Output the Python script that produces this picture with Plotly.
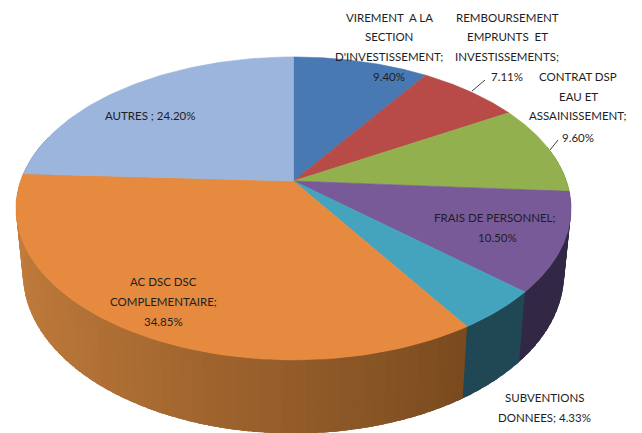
import numpy as np
import plotly.graph_objects as go

# ---- data ----
categories = ["VIREMENT A LA SECTION D'INVESTISSEMENT", "REMBOURSEMENT EMPRUNTS ET INVESTISSEMENTS",
              "CONTRAT DSP EAU ET ASSAINISSEMENT", "FRAIS DE PERSONNEL", "SUBVENTIONS DONNEES",
              "AC DSC DSC COMPLEMENTAIRE", "AUTRES"]
values = [9.40, 7.11, 9.60, 10.50, 4.33, 34.85, 24.20]
top_colors = ["#4879B3", "#B84A47", "#93B04F", "#785A99", "#44A4BE", "#E58A3F", "#9BB5DD"]
wall_left = [(40, 66, 100), (100, 40, 38), (80, 98, 44), (46, 37, 64), (31, 71, 84), (194, 124, 60), (80, 96, 118)]
wall_right = [(40, 66, 100), (100, 40, 38), (80, 98, 44), (50, 40, 70), (31, 71, 84), (100, 60, 22), (80, 96, 118)]

labels = [
    ("VIREMENT  A LA", 389, 17), ("SECTION", 389, 36), ("D'INVESTISSEMENT;", 389, 56), ("9.40%", 389, 76),
    ("REMBOURSEMENT", 507, 17), ("EMPRUNTS  ET", 507, 36), ("INVESTISSEMENTS;", 507, 56), ("7.11%", 507, 76),
    ("CONTRAT DSP", 578, 76), ("EAU ET", 578, 96), ("ASSAINISSEMENT;", 578, 115), ("9.60%", 578, 137),
    ("FRAIS DE PERSONNEL;", 495, 217), ("10.50%", 497, 237),
    ("SUBVENTIONS", 544, 397), ("DONNEES; 4.33%", 544, 417),
    ("AC DSC DSC", 163, 281), ("COMPLEMENTAIRE;", 163, 301), ("34.85%", 163, 321),
    ("AUTRES ; 24.20%", 150, 115),
]
leaders = [((472, 91), (485, 80)), ((550, 150), (558, 140))]

# ---- projection of the tilted disc ----
CX, CY, A, B, P = 293.5, 181, 273, 146.5, 0.181
SHRINK, DROP = 0.975, 64


def ring(theta, lower=False):
    u, v = np.sin(theta), -np.cos(theta)
    w = 1 - P * v
    if lower:
        return CX + A * SHRINK * u / w, CY + (B * SHRINK * v + DROP) / w
    return CX + A * u / w, CY + B * v / w


edges = np.cumsum([0] + values) / sum(values) * 2 * np.pi
fig = go.Figure()

# walls: each strip runs over into the next one, which then paints over the overlap
for i, val in enumerate(values):
    t0, t1 = edges[i], edges[i + 1]
    n = max(2, int((t1 - t0) / 0.035))
    ts = np.linspace(t0, t1, n + 1)
    for a, b in zip(ts[:-1], ts[1:]):
        mid = (a + b) / 2
        if -np.cos(mid) < -0.25:
            continue
        f = (np.sin(mid) + 1) / 2
        c = [round(l + (r - l) * f) for l, r in zip(wall_left[i], wall_right[i])]
        col = f"rgb({c[0]},{c[1]},{c[2]})"
        b2 = b + 0.06
        x0, y0 = ring(a)
        x1, y1 = ring(b2)
        x2, y2 = ring(b2, True)
        x3, y3 = ring(a, True)
        fig.add_trace(go.Scatter(x=[x0, x1, x2, x3, x0], y=[y0, y1, y2, y3, y0], mode="lines",
                                 fill="toself", fillcolor=col, line=dict(width=0),
                                 hoverinfo="skip", showlegend=False))

# top faces
for i, val in enumerate(values):
    ts = np.linspace(edges[i], edges[i + 1], 80)
    xs, ys = ring(ts)
    fig.add_trace(go.Scatter(x=np.r_[CX, xs, CX], y=np.r_[CY, ys, CY], mode="lines", fill="toself",
                             fillcolor=top_colors[i], line=dict(color=top_colors[i], width=0.6),
                             name=categories[i], hoverinfo="name", showlegend=False))

for (x0, y0), (x1, y1) in leaders:
    fig.add_trace(go.Scatter(x=[x0, x1], y=[y0, y1], mode="lines", line=dict(color="#404040", width=1),
                             hoverinfo="skip", showlegend=False))

for text, x, y in labels:
    fig.add_annotation(x=x, y=y, text=text, showarrow=False, xanchor="center", yanchor="middle",
                       font=dict(family="Lato", size=11.5, color="#1E1E24"))

fig.update_layout(width=642, height=433, margin=dict(l=0, r=0, t=0, b=0),
                  paper_bgcolor="white", plot_bgcolor="white",
                  xaxis=dict(range=[0, 642], visible=False, fixedrange=True),
                  yaxis=dict(range=[433, 0], visible=False, fixedrange=True))
fig.write_html("out.html", config={"displayModeBar": False},
               post_script="document.body.style.margin='0';document.body.style.overflow='hidden';")
